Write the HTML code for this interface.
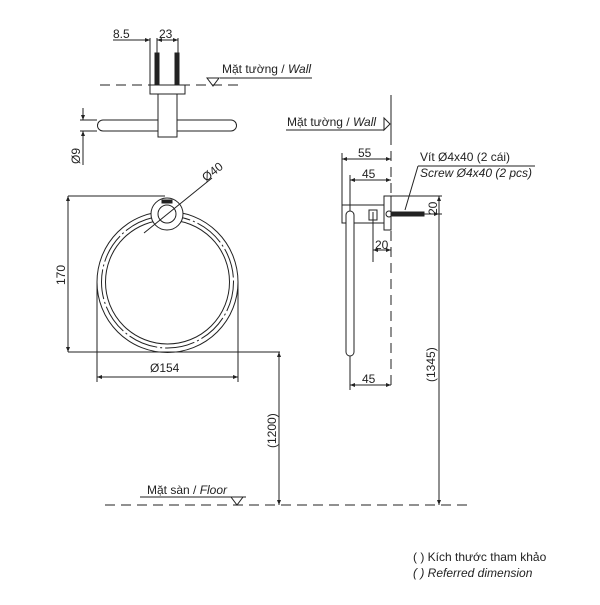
<!DOCTYPE html>
<html><head><meta charset="utf-8"><style>
html,body{margin:0;padding:0;background:#fff}
svg text{font-family:"Liberation Sans","DejaVu Sans",sans-serif;font-size:12px;fill:#222}
</style></head><body>
<svg width="600" height="600" viewBox="0 0 600 600" xmlns="http://www.w3.org/2000/svg">
<defs>
<marker id="a" viewBox="0 0 10 10" refX="10" refY="5" markerWidth="8" markerHeight="5" orient="auto-start-reverse"><path d="M0,1 L10,5 L0,9z" fill="#222"/></marker>
</defs>
<g stroke="#222" stroke-width="1" fill="none">
<!-- TOP VIEW -->
<line x1="113" y1="40" x2="150" y2="40" marker-end="url(#a)"/>
<line x1="157" y1="40" x2="178" y2="40" marker-start="url(#a)" marker-end="url(#a)"/>
<line x1="150" y1="38" x2="150" y2="86"/>
<line x1="157" y1="38" x2="157" y2="55"/>
<line x1="178" y1="38" x2="178" y2="55"/>
<rect x="155" y="53" width="4" height="32" fill="#222"/>
<rect x="175" y="53" width="4" height="32" fill="#222"/>
<line x1="100" y1="85" x2="240" y2="85" stroke-dasharray="10,6"/>
<line x1="220" y1="78" x2="312" y2="78"/>
<path d="M207,78 L219,78 L213,86z"/>
<rect x="150" y="85" width="35" height="9"/>
<rect x="158" y="94" width="19" height="43"/>
<path d="M158,120 L103,120 A5.5,5.5 0 0 0 103,131 L158,131"/>
<path d="M177,120 L231,120 A5.5,5.5 0 0 1 231,131 L177,131"/>
<line x1="80" y1="120" x2="97" y2="120"/>
<line x1="80" y1="131" x2="97" y2="131"/>
<line x1="83" y1="108" x2="83" y2="120" marker-end="url(#a)"/>
<line x1="83" y1="143" x2="83" y2="131" marker-end="url(#a)"/>
<line x1="83" y1="131" x2="83" y2="165"/>
<!-- FRONT VIEW -->
<circle cx="167.5" cy="282" r="70.5"/>
<circle cx="167.5" cy="282" r="66" stroke-dasharray="30,3,2,3"/>
<circle cx="167.5" cy="282" r="62"/>
<circle cx="167" cy="214" r="16" fill="#fff"/>
<circle cx="167" cy="214" r="9"/>
<rect x="162" y="200" width="10" height="3" fill="#222"/>
<line x1="144" y1="233" x2="212" y2="178"/>
<line x1="68" y1="196" x2="165" y2="196"/>
<line x1="68" y1="352" x2="280" y2="352"/>
<line x1="68" y1="196" x2="68" y2="352" marker-start="url(#a)" marker-end="url(#a)"/>
<line x1="97" y1="282" x2="97" y2="382"/>
<line x1="238" y1="282" x2="238" y2="382"/>
<line x1="97" y1="377" x2="238" y2="377" marker-start="url(#a)" marker-end="url(#a)"/>
<line x1="279" y1="352" x2="279" y2="505" marker-start="url(#a)" marker-end="url(#a)"/>
<line x1="105" y1="505" x2="470" y2="505" stroke-dasharray="10,6"/>
<line x1="140" y1="497" x2="246" y2="497"/>
<path d="M231,497 L243,497 L237,505z"/>
<!-- SIDE VIEW -->
<line x1="391" y1="95" x2="391" y2="135"/>
<line x1="391" y1="135" x2="391" y2="390" stroke-dasharray="10,6"/>
<line x1="286" y1="130" x2="384" y2="130"/>
<path d="M384,118 L384,130 L390,124z"/>
<line x1="342" y1="153" x2="342" y2="205"/>
<line x1="350" y1="175" x2="350" y2="390"/>
<line x1="342" y1="159" x2="391" y2="159" marker-start="url(#a)" marker-end="url(#a)"/>
<line x1="350" y1="180" x2="391" y2="180" marker-start="url(#a)" marker-end="url(#a)"/>
<rect x="342" y="205" width="42" height="18"/>
<rect x="384" y="196" width="7" height="34"/>
<path d="M346,352 L346,215 A4,4 0 0 1 354,215 L354,352 A4,4 0 0 1 346,352z" fill="#fff"/>
<rect x="369" y="210" width="8" height="10"/>
<line x1="373" y1="212" x2="373" y2="262"/>
<line x1="373" y1="250" x2="391" y2="250" marker-start="url(#a)" marker-end="url(#a)"/>
<rect x="391" y="212" width="33" height="4" fill="#222"/>
<circle cx="389" cy="214" r="3"/>
<line x1="405" y1="210" x2="418" y2="166"/>
<line x1="418" y1="166" x2="535" y2="166"/>
<line x1="391" y1="196" x2="442" y2="196"/>
<line x1="424" y1="214" x2="442" y2="214"/>
<line x1="439" y1="196" x2="439" y2="505" marker-start="url(#a)" marker-end="url(#a)"/>
<line x1="439" y1="214" x2="439" y2="214" marker-end="url(#a)"/>
<line x1="350" y1="385" x2="391" y2="385" marker-start="url(#a)" marker-end="url(#a)"/>
</g>
<text x="113" y="38">8.5</text>
<text x="159" y="38">23</text>
<text x="222" y="73">Mặt tường / <tspan font-style="italic">Wall</tspan></text>
<text transform="translate(80,164) rotate(-90)">Ø9</text>
<text transform="translate(206,182) rotate(-38)">Ø40</text>
<text transform="translate(65,285) rotate(-90)">170</text>
<text x="150" y="372">Ø154</text>
<text transform="translate(276,448) rotate(-90)">(1200)</text>
<text x="147" y="494">Mặt sàn / <tspan font-style="italic">Floor</tspan></text>
<text x="287" y="126">Mặt tường / <tspan font-style="italic">Wall</tspan></text>
<text x="358" y="157">55</text>
<text x="362" y="178">45</text>
<text x="420" y="161">Vít Ø4x40 (2 cái)</text>
<text x="420" y="177" font-style="italic">Screw Ø4x40 (2 pcs)</text>
<text transform="translate(437,215) rotate(-90)">20</text>
<text x="375" y="249">20</text>
<text x="362" y="383">45</text>
<text transform="translate(435,382) rotate(-90)">(1345)</text>
<text x="413" y="561">( ) Kích thước tham khảo</text>
<text x="413" y="577" font-style="italic">( ) Referred dimension</text>
</svg>
</body></html>
